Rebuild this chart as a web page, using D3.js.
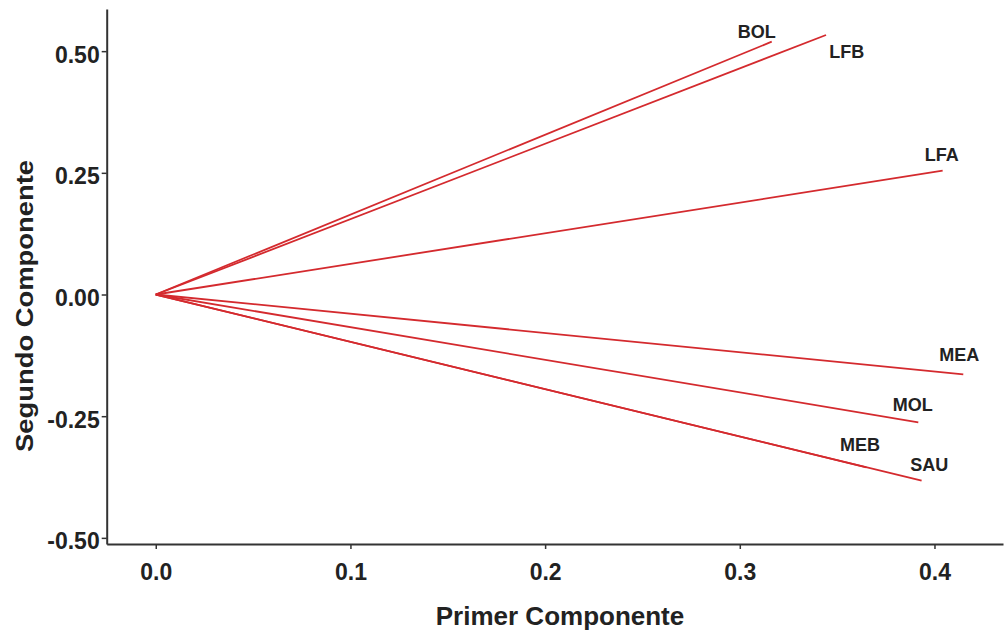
<!DOCTYPE html>
<html><head><meta charset="utf-8">
<script src="https://cdn.jsdelivr.net/npm/d3@7"></script>
<style>body{margin:0;background:#fff;} text{font-family:"Liberation Sans",Arial,sans-serif;font-weight:bold;fill:#222;}</style>
</head><body>
<svg id="c" width="1006" height="633"></svg>
<script>
const variables = ["BOL","LFB","LFA","MEA","MOL","MEB","SAU"];
const pc1 = [0.3164, 0.3443, 0.4042, 0.4148, 0.3917, 0.3650, 0.3934];
const pc2 = [0.5194, 0.5332, 0.2544, -0.1640, -0.2626, -0.3550, -0.3826];
const labelPc1 = [0.3087, 0.3549, 0.4037, 0.4127, 0.3888, 0.3617, 0.3973];
const labelPc2 = [0.5400, 0.4989, 0.2866, -0.1243, -0.2270, -0.3092, -0.3503];
const xTicks = [0.0, 0.1, 0.2, 0.3, 0.4];
const yTicks = [0.50, 0.25, 0.00, -0.25, -0.50];
const xTitle = "Primer Componente";
const yTitle = "Segundo Componente";

const svg = d3.select("#c");
const x = d3.scaleLinear().domain([-0.0252, 0.4352]).range([106.7, 1003]);
const y = d3.scaleLinear().domain([-0.5126, 0.5866]).range([544, 9]);
const hy = f => s => f(s).replace("\u2212", "-");

const gx = svg.append("g").attr("transform", `translate(0,${y.range()[0]})`)
  .call(d3.axisBottom(x).tickValues(xTicks).tickFormat(hy(d3.format(".1f"))).tickSize(5).tickSizeOuter(0));
const gy = svg.append("g").attr("transform", `translate(${x.range()[0]},0)`)
  .call(d3.axisLeft(y).tickValues(yTicks).tickFormat(hy(d3.format(".2f"))).tickSize(5).tickSizeOuter(0));
[gx, gy].forEach(g => {
  g.select(".domain").attr("stroke", "#333").attr("stroke-width", 2);
  g.selectAll(".tick line").attr("stroke", "#333").attr("stroke-width", 1.5);
  g.selectAll(".tick text").attr("font-size", 23).attr("fill", "#222").attr("font-family", null);
});
gx.selectAll(".tick text").attr("dy", "0.71em").attr("y", 20);
gy.selectAll(".tick text").attr("x", -7).attr("dy", "0.48em");

const data = variables.map((v, i) => ({v, x: pc1[i], y: pc2[i], lx: labelPc1[i], ly: labelPc2[i]}));
svg.append("g").selectAll("line").data(data).join("line")
  .attr("x1", x(0)).attr("y1", y(0))
  .attr("x2", d => x(d.x)).attr("y2", d => y(d.y))
  .attr("stroke", "#d42a2e").attr("stroke-width", 1.8);

svg.append("g").selectAll("text").data(data).join("text")
  .attr("x", d => x(d.lx)).attr("y", d => y(d.ly))
  .attr("text-anchor", "middle").attr("dy", "0.36em")
  .attr("font-size", 18).text(d => d.v);

svg.append("text").attr("x", 560).attr("y", 616).attr("dy", "0.36em")
  .attr("text-anchor", "middle").attr("font-size", 26).text(xTitle);
svg.append("text").attr("transform", "translate(24,306) rotate(-90)").attr("dy", "0.36em")
  .attr("text-anchor", "middle").attr("font-size", 24)
  .attr("textLength", 292).attr("lengthAdjust", "spacingAndGlyphs").text(yTitle);
</script>
</body></html>
